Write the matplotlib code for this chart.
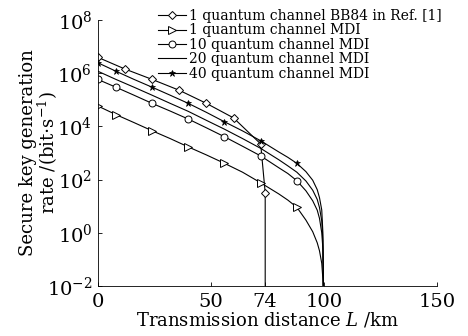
import matplotlib
matplotlib.use("Agg")
import matplotlib.pyplot as plt
from matplotlib.ticker import FixedLocator, NullLocator

plt.rcParams['font.family'] = ['DejaVu Serif']
plt.rcParams['mathtext.fontset'] = 'dejavuserif'

# BB84 reference (1 quantum channel)
bb84_L = [0, 12, 24, 36, 48, 60, 72, 74, 74]
bb84_R = [4.0e6, 1.45e6, 5.9e5, 2.3e5, 7.4e4, 2.1e4, 2.2e3, 32, 1e-4]

# MDI curves (distance in km)
mdi_L = [0, 8, 16, 24, 32, 40, 48, 56, 64, 72, 80, 84, 88, 92, 95, 97, 98, 99, 99.5, 100]
mdi1_R = [5.9e4, 2.8e4, 1.4e4, 6.9e3, 3.5e3, 1.7e3, 850, 410, 190, 76, 29, 17, 9.1,
          3.0, 1.1, 0.42, 0.21, 0.071, 0.018, 1e-4]
mdi10_R = [5.9e5, 3.0e5, 1.5e5, 7.4e4, 3.8e4, 1.9e4, 8.9e3, 4.1e3, 1.8e3, 780, 280, 170, 91,
           38, 16, 7.1, 3.5, 1.0, 0.25, 1e-4]
mdi20_R = [1.2e6, 5.9e5, 3.0e5, 1.5e5, 7.4e4, 3.7e4, 1.7e4, 7.9e3, 3.5e3, 1.5e3, 560, 330, 190,
           89, 40, 18, 8.9, 2.8, 0.5, 1e-4]
mdi40_R = [2.5e6, 1.2e6, 5.9e5, 3.0e5, 1.5e5, 7.4e4, 3.4e4, 1.5e4, 6.8e3, 2.9e3, 1.1e3, 690, 410,
           200, 95, 42, 21, 7.2, 1.0, 1e-4]
mdi_marks = [0, 1, 3, 5, 7, 9, 12]

labels = ["1 quantum channel BB84 in Ref. [1]",
          "1 quantum channel MDI",
          "10 quantum channel MDI",
          "20 quantum channel MDI",
          "40 quantum channel MDI"]

x_ticks = [0, 50, 74, 100, 150]
y_ticks = [1e-2, 1e0, 1e2, 1e4, 1e6, 1e8]
y_ticklabels = [r'$10^{-2}$', r'$10^{0}$', r'$10^{2}$', r'$10^{4}$', r'$10^{6}$', r'$10^{8}$']

fig = plt.figure(figsize=(4.68, 3.36), dpi=100)
ax = fig.add_axes([0.209, 0.149, 0.725, 0.791])

lw = 0.8
ax.plot(bb84_L, bb84_R, color='black', lw=lw, marker='D', markersize=4,
        markerfacecolor='white', markeredgewidth=0.7, markevery=list(range(8)), label=labels[0])
ax.plot(mdi_L, mdi1_R, color='black', lw=lw, marker='>', markersize=5.5,
        markerfacecolor='white', markeredgewidth=0.7, markevery=mdi_marks, label=labels[1])
ax.plot(mdi_L, mdi10_R, color='black', lw=lw, marker='o', markersize=5,
        markerfacecolor='white', markeredgewidth=0.7, markevery=mdi_marks, label=labels[2])
ax.plot(mdi_L, mdi20_R, color='black', lw=lw, label=labels[3])
ax.plot(mdi_L, mdi40_R, color='black', lw=lw, marker='*', markersize=4.5,
        markeredgewidth=0.5, markevery=mdi_marks, label=labels[4])

ax.set_yscale('log')
ax.set_xlim(0, 150)
ax.set_ylim(1e-2, 1e8)
ax.xaxis.set_major_locator(FixedLocator(x_ticks))
ax.yaxis.set_major_locator(FixedLocator(y_ticks))
ax.yaxis.set_minor_locator(NullLocator())
ax.set_xticklabels([str(t) for t in x_ticks])
ax.set_yticklabels(y_ticklabels)
ax.tick_params(direction='in', length=3, width=0.6, labelsize=14, pad=4)
ax.tick_params(axis='x', pad=5)

for s in ['top', 'right']:
    ax.spines[s].set_visible(False)
for s in ['left', 'bottom']:
    ax.spines[s].set_linewidth(0.6)

ax.set_xlabel(r'Transmission distance $L$ /km', fontsize=13, labelpad=0)
ax.set_ylabel('Secure key generation\nrate /(bit$\\cdot$s$^{-1}$)', fontsize=13,
              linespacing=0.95)
ax.yaxis.set_label_coords(-0.112, 0.5)

leg = fig.legend(loc='upper left', bbox_to_anchor=(0.338, 0.973), frameon=False,
                 fontsize=10, handlelength=2.0, handletextpad=0.25, labelspacing=0.03,
                 borderaxespad=0, borderpad=0)

fig.savefig('out.png', dpi=100)
